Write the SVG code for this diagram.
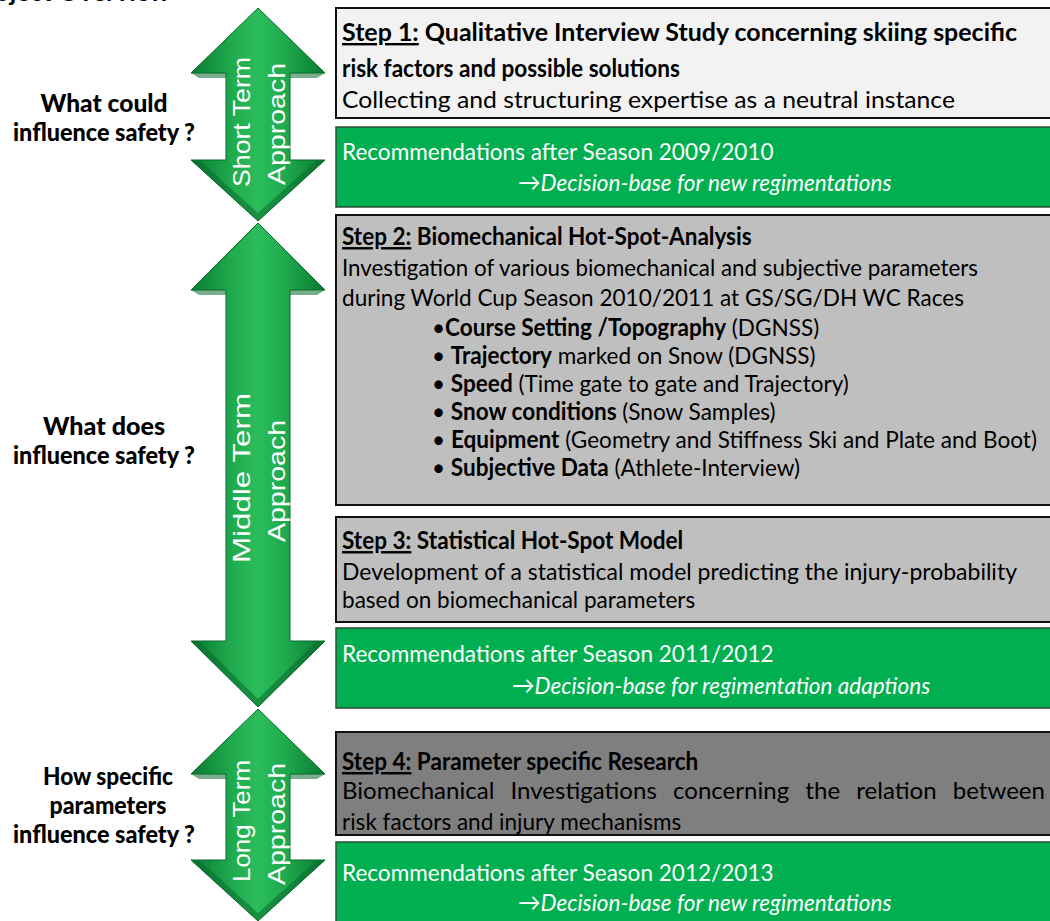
<svg xmlns="http://www.w3.org/2000/svg" width="1050" height="921" viewBox="0 0 1050 921">
<style>
.t{font-family:Lato,"Liberation Sans","DejaVu Sans",sans-serif;font-size:24px;fill:#000}
.b{font-weight:bold}
.w{fill:#fff}
.i{font-style:italic}
.u{text-decoration:underline}
.q{font-family:Lato,"Liberation Sans",sans-serif;font-size:24px;font-weight:900;fill:#000;text-anchor:middle}
.at{font-family:"Liberation Sans",Arial,sans-serif;font-size:24px;fill:#fff;text-anchor:middle}
.box{stroke:#111;stroke-width:2}
.grn{fill:#00b050;stroke:#2e4e38;stroke-width:1.5}
.arr{fill:url(#ag);stroke:#0b6a2c;stroke-width:1}
.bev{fill:#0a6b2d;opacity:0.55}
</style>
<defs>
<linearGradient id="ag" x1="0" y1="0" x2="1" y2="0">
<stop offset="0" stop-color="#0a7a33"/>
<stop offset="0.3" stop-color="#1faa4e"/>
<stop offset="0.5" stop-color="#2bbd5c"/>
<stop offset="0.7" stop-color="#1faa4e"/>
<stop offset="1" stop-color="#0a7a33"/>
</linearGradient>
</defs>
<rect width="1050" height="921" fill="#fff"/>
<text class="t b" x="-30" y="1" font-size="28" textLength="200" lengthAdjust="spacingAndGlyphs">Project Overview</text>

<g id="arrows">
<g id="arrow-short">
<polygon class="arr" points="258,8 325,73 290,73 290,160 325,160 258,221 191,160 226,160 226,73 191,73"/>
<polygon class="bev" points="191,73 226,73 226,78 199,78"/>
<polygon class="bev" points="325,73 290,73 290,78 317,78"/>
<polygon class="bev" points="258,221 191,160 199,160 258,213 317,160 325,160"/>
<text class="at" transform="translate(250,122) rotate(-90)" textLength="130" lengthAdjust="spacingAndGlyphs">Short Term</text>
<text class="at" transform="translate(285,124) rotate(-90)" textLength="122" lengthAdjust="spacingAndGlyphs">Approach</text>
</g>
<g id="arrow-middle">
<polygon class="arr" points="258,223 325,290 290,290 290,641 325,641 258,707 191,641 226,641 226,290 191,290"/>
<polygon class="bev" points="191,290 226,290 226,295 199,295"/>
<polygon class="bev" points="325,290 290,290 290,295 317,295"/>
<polygon class="bev" points="258,707 191,641 199,641 258,699 317,641 325,641"/>
<text class="at" transform="translate(250,478) rotate(-90)" textLength="170" lengthAdjust="spacingAndGlyphs">Middle Term</text>
<text class="at" transform="translate(285,481) rotate(-90)" textLength="122" lengthAdjust="spacingAndGlyphs">Approach</text>
</g>
<g id="arrow-long">
<polygon class="arr" points="258,709 325,774 290,774 290,860 325,860 258,921 191,860 226,860 226,774 191,774"/>
<polygon class="bev" points="191,774 226,774 226,779 199,779"/>
<polygon class="bev" points="325,774 290,774 290,779 317,779"/>
<polygon class="bev" points="258,921 191,860 199,860 258,913 317,860 325,860"/>
<text class="at" transform="translate(250,821) rotate(-90)" textLength="122" lengthAdjust="spacingAndGlyphs">Long Term</text>
<text class="at" transform="translate(285,824) rotate(-90)" textLength="122" lengthAdjust="spacingAndGlyphs">Approach</text>
</g>
</g>

<g id="q1">
<text class="q" x="104" y="112" textLength="127" lengthAdjust="spacingAndGlyphs">What could</text>
<text class="q" x="104" y="141" textLength="182" lengthAdjust="spacingAndGlyphs">influence safety ?</text>
</g>
<g id="q2">
<text class="q" x="104" y="435" textLength="122" lengthAdjust="spacingAndGlyphs">What does</text>
<text class="q" x="104" y="464" textLength="182" lengthAdjust="spacingAndGlyphs">influence safety ?</text>
</g>
<g id="q3">
<text class="q" x="108" y="785" textLength="130" lengthAdjust="spacingAndGlyphs">How specific</text>
<text class="q" x="108" y="814" textLength="117" lengthAdjust="spacingAndGlyphs">parameters</text>
<text class="q" x="104" y="843" textLength="182" lengthAdjust="spacingAndGlyphs">influence safety ?</text>
</g>

<g id="step1">
<rect class="box" x="336" y="8" width="730" height="110" fill="#f2f2f2"/>
<text class="t b" x="342" y="41" textLength="675" lengthAdjust="spacingAndGlyphs"><tspan class="u">Step 1:</tspan> Qualitative Interview Study concerning skiing specific</text>
<text class="t b" transform="translate(342,77) scale(0.94,1)">risk factors and possible solutions</text>
<text class="t" x="342" y="108" textLength="613" lengthAdjust="spacingAndGlyphs">Collecting and structuring expertise as a neutral instance</text>
</g>
<g id="rec1">
<rect class="grn" x="336" y="127" width="730" height="80"/>
<text class="t w" transform="translate(342,160) scale(0.94,1)">Recommendations after Season 2009/2010</text>
<text class="t w i" transform="translate(518,191) scale(0.94,1)">→Decision-base for new regimentations</text>
</g>

<g id="step2">
<rect class="box" x="336" y="215" width="730" height="290" fill="#bfbfbf"/>
<text class="t b" transform="translate(342,245) scale(0.94,1)"><tspan class="u">Step 2:</tspan>  Biomechanical Hot-Spot-Analysis</text>
<text class="t" x="342" y="276" textLength="636" lengthAdjust="spacingAndGlyphs">Investigation of various biomechanical and subjective parameters</text>
<text class="t" transform="translate(342,306) scale(0.94,1)">during World Cup Season 2010/2011 at GS/SG/DH WC Races</text>
<text class="t" transform="translate(432,336) scale(0.94,1)">•<tspan class="b">Course Setting /Topography</tspan> (DGNSS)</text>
<text class="t" transform="translate(432,364) scale(0.94,1)">• <tspan class="b">Trajectory</tspan> marked on Snow (DGNSS)</text>
<text class="t" transform="translate(432,392) scale(0.94,1)">• <tspan class="b">Speed</tspan> (Time gate to gate and Trajectory)</text>
<text class="t" transform="translate(432,420) scale(0.94,1)">• <tspan class="b">Snow conditions</tspan> (Snow Samples)</text>
<text class="t" x="432" y="448" textLength="605" lengthAdjust="spacingAndGlyphs">• <tspan class="b">Equipment</tspan> (Geometry and Stiffness Ski and Plate and Boot)</text>
<text class="t" transform="translate(432,476) scale(0.94,1)">• <tspan class="b">Subjective Data</tspan> (Athlete-Interview)</text>
</g>

<g id="step3">
<rect class="box" x="336" y="517" width="730" height="105" fill="#bfbfbf"/>
<text class="t b" transform="translate(342,549) scale(0.94,1)"><tspan class="u">Step 3:</tspan> Statistical Hot-Spot Model</text>
<text class="t" x="342" y="580" textLength="675" lengthAdjust="spacingAndGlyphs">Development of a statistical model predicting the injury-probability</text>
<text class="t" transform="translate(342,608) scale(0.94,1)">based on biomechanical parameters</text>
</g>
<g id="rec2">
<rect class="grn" x="336" y="628" width="730" height="80"/>
<text class="t w" transform="translate(342,662) scale(0.94,1)">Recommendations after Season 2011/2012</text>
<text class="t w i" transform="translate(512,694) scale(0.94,1)">→Decision-base for regimentation adaptions</text>
</g>

<g id="step4">
<rect class="box" x="336" y="732" width="730" height="103" fill="#7f7f7f"/>
<text class="t b" transform="translate(342,770) scale(0.94,1)"><tspan class="u">Step 4:</tspan>  Parameter specific Research</text>
<text class="t" x="342" y="799" word-spacing="10" textLength="703" lengthAdjust="spacingAndGlyphs">Biomechanical Investigations concerning the relation between</text>
<text class="t" transform="translate(342,830) scale(0.94,1)">risk factors and injury mechanisms</text>
</g>
<g id="rec3">
<rect class="grn" x="336" y="842" width="730" height="90"/>
<text class="t w" transform="translate(342,881) scale(0.94,1)">Recommendations after Season 2012/2013</text>
<text class="t w i" transform="translate(518,911) scale(0.94,1)">→Decision-base for new regimentations</text>
</g>
<g id="connectors"/>
</svg>
